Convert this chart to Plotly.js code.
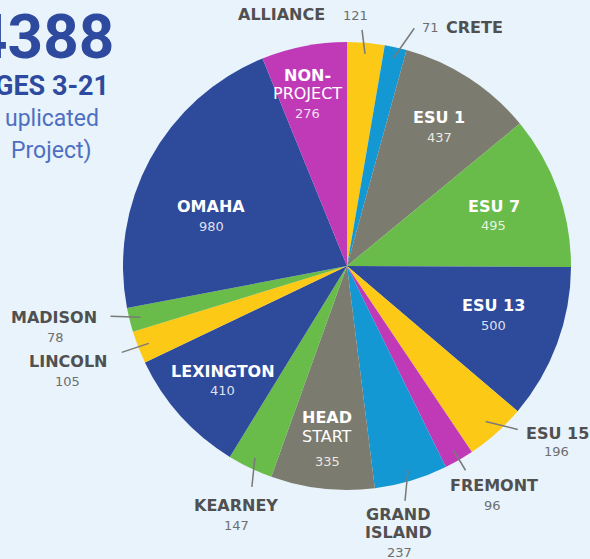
<!DOCTYPE html>
<html><head><meta charset="utf-8">
<script src="https://cdn.plot.ly/plotly-3.0.1.min.js"></script>
<style>html,body{margin:0;padding:0;background:#E8F3FB;overflow:hidden}</style>
</head><body>
<div id="chart" style="width:590px;height:559px"></div>
<script>
// ---- data ----
const categories = ["ALLIANCE","CRETE","ESU 1","ESU 7","ESU 13","ESU 15","FREMONT","GRAND ISLAND","HEAD START","KEARNEY","LEXINGTON","LINCOLN","MADISON","OMAHA","NON-PROJECT"];
const counts = [121,71,437,495,500,196,96,237,335,147,410,105,78,980,276];
const headlineLines = ["4388","GES 3-21","uplicated","Project)"];

// ---- style ----
const YEL="#FCC916", CYA="#1398D3", GRY="#7C7B6F", GRN="#69BB4A", BLU="#2E4A9A", MAG="#C03AB8";
const sliceColors = [YEL,CYA,GRY,GRN,BLU,YEL,MAG,CYA,GRY,GRN,BLU,YEL,GRN,BLU,MAG];
const W=590,H=559,cx=347,cy=266,R=224;
const FONT="DejaVu Sans";

const total = counts.reduce((a,b)=>a+b,0);
const mids=[]; let acc=0;
counts.forEach(v=>{ mids.push((acc+v/2)/total*360); acc+=v; });
function polar(th,r){const t=th*Math.PI/180;return [cx+r*Math.sin(t), cy-r*Math.cos(t)];}
const px=x=>x/W, py=y=>1-y/H;

const annotations=[], shapes=[];
function addText(text,x,y,size,color,xanchor,family){
  annotations.push({text:text,x:px(x),y:py(y),xref:"paper",yref:"paper",showarrow:false,
    xanchor:xanchor||"center",yanchor:"middle",font:{family:family||FONT,size:size,color:color}});
}

// inside labels: placement (radius fraction, angle shift) and name lines
const insideCfg = {
  "NON-PROJECT":{rf:0.871,dA:-0.7,lines:[["NON-",true],["PROJECT",false]],gap:[18,38]},
  "ESU 1":{rf:0.782,dA:-1.2,lines:[["ESU 1",true]],gap:[20]},
  "ESU 7":{rf:0.707,dA:-2.3,lines:[["ESU 7",true]],gap:[19]},
  "ESU 13":{rf:0.676,dA:-5,lines:[["ESU 13",true]],gap:[20]},
  "HEAD START":{rf:0.68,dA:1.2,lines:[["HEAD",true],["START",false]],gap:[19,44]},
  "LEXINGTON":{rf:0.728,dA:1.5,lines:[["LEXINGTON",true]],gap:[19]},
  "OMAHA":{rf:0.662,dA:-5,lines:[["OMAHA",true]],gap:[20]}
};
// outside labels: leader start radius, leader end offset, text offsets
const outsideCfg = {
  "ALLIANCE":{r0:0.95,end:[-3,-24],name:[-35,-15,"right"],val:[-21,-14,"left"]},
  "CRETE":{r0:0.95,end:[21,-30],name:[30,-1,"left"],val:[6,-1,"left"]},
  "ESU 15":{r0:0.93,end:[32,8],name:[6,4,"left"],val:[39,22,"center"]},
  "FREMONT":{r0:0.95,end:[12,20],name:[29,15,"center"],val:[27,35,"center"]},
  "GRAND ISLAND":{r0:0.95,end:[-3,31],name:[-7,14,"center"],val:[-6,52,"center"],split:true},
  "KEARNEY":{r0:0.95,end:[-3,29],name:[-16,19,"center"],val:[-15,39,"center"]},
  "LINCOLN":{r0:0.95,end:[-27,9],name:[-54,9,"center"],val:[-54,29,"center"]},
  "MADISON":{r0:0.95,end:[-30,-1],name:[-56,1,"center"],val:[-55,21,"center"]}
};

categories.forEach((c,i)=>{
  if(insideCfg[c]){
    const g=insideCfg[c];
    const [x,y]=polar(mids[i]+g.dA,R*g.rf);
    g.lines.forEach((ln,k)=>{
      const yy = k===0? y : y+g.gap[k-1];
      addText(ln[1]?"<b>"+ln[0]+"</b>":ln[0], x, yy, 16, "#FFFFFF");
    });
    addText(String(counts[i]), x, y+g.gap[g.gap.length-1], 13, "rgba(255,255,255,0.85)");
  } else if(outsideCfg[c]){
    const g=outsideCfg[c];
    const [x0,y0]=polar(mids[i],R*g.r0);
    const x1=x0+g.end[0], y1=y0+g.end[1];
    shapes.push({type:"line",xref:"paper",yref:"paper",x0:px(x0),y0:py(y0),x1:px(x1),y1:py(y1),
      line:{color:"#7A7A78",width:1.5}});
    if(g.split){
      const parts=c.split(" ");
      addText("<b>"+parts[0]+"</b>", x1+g.name[0], y1+g.name[1], 16, "#505050", g.name[2]);
      addText("<b>"+parts[1]+"</b>", x1+g.name[0], y1+g.name[1]+18, 16, "#505050", g.name[2]);
    } else {
      addText("<b>"+c+"</b>", x1+g.name[0], y1+g.name[1], 16, "#505050", g.name[2]);
    }
    addText(String(counts[i]), x1+g.val[0], y1+g.val[1], 13, "#6E6E6E", g.val[2]);
  }
});

// headline block (top-left)
addText("<b>"+headlineLines[0]+"</b>", 116, 37, 62, "#2E4A9E", "right", "Liberation Sans Narrow, Roboto");
addText("<b>"+headlineLines[1]+"</b>", 111, 86, 27, "#2E4A9E", "right", "Roboto");
addText(headlineLines[2], 101, 118, 23, "#4E6FC2", "right", "Roboto");
addText(headlineLines[3], 93, 150, 23, "#4E6FC2", "right", "Roboto");

const trace={type:"pie",labels:categories,values:counts,sort:false,direction:"clockwise",rotation:0,
  marker:{colors:sliceColors,line:{width:0}},textinfo:"none",hoverinfo:"label+value",
  domain:{x:[(cx-R)/W,(cx+R)/W],y:[1-(cy+R)/H,1-(cy-R)/H]}};
const layout={width:W,height:H,margin:{l:0,r:0,t:0,b:0},paper_bgcolor:"#E8F3FB",plot_bgcolor:"#E8F3FB",
  showlegend:false,annotations:annotations,shapes:shapes};
Plotly.newPlot("chart",[trace],layout,{displayModeBar:false,staticPlot:true});
</script>
</body></html>
